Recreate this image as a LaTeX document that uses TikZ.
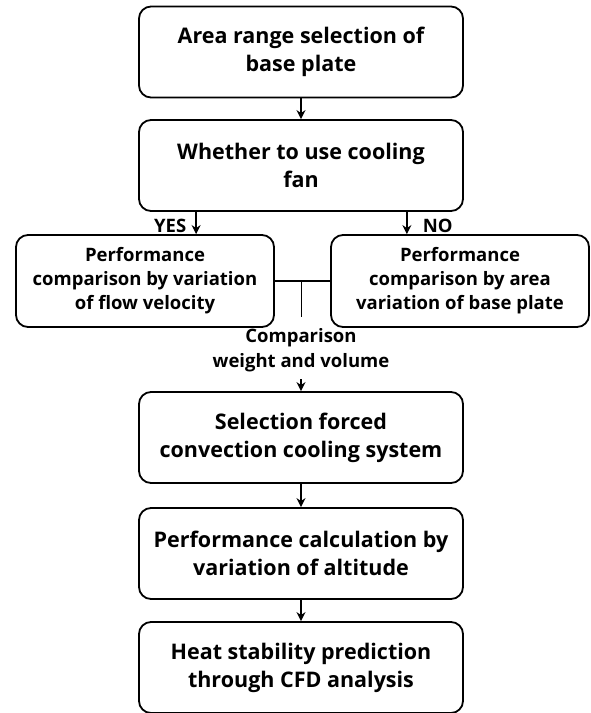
\documentclass[tikz,border=0pt]{standalone}
\usepackage{fontspec}
\setmainfont{Open Sans}
\usetikzlibrary{arrows.meta,positioning,shapes}

\begin{document}
\begin{tikzpicture}[x=1pt,y=-1pt,
  box/.style={draw,line width=1.8pt,rounded corners=12pt,align=center,
    font=\bfseries\fontsize{21.5}{28}\selectfont,minimum width=324pt,minimum height=91pt,inner sep=2pt},
  sidebox/.style={box,font=\bfseries\fontsize{18.5}{24}\selectfont,minimum width=258pt,minimum height=92pt},
  arr/.style={-{Stealth[length=9pt,width=9pt]},line width=1.8pt},
  lbl/.style={font=\bfseries\fontsize{18.5}{25}\selectfont,inner sep=1pt}]
\useasboundingbox (0,0) rectangle (591,713);
\node[box] (b1) at (301,52) {Area range selection of\\base plate};
\node[box] (b2) at (301,165.5) {Whether to use cooling\\fan};
\node[sidebox] (yes) at (145,281) {Performance\\comparison by variation\\of flow velocity};
\node[sidebox] (no) at (460,281) {Performance\\comparison by area\\variation of base plate};
\node[lbl,align=center] (cmp) at (301,350) {Comparison\\weight and volume};
\node[box] (b3) at (301,437.5) {Selection forced\\convection cooling system};
\node[box] (b4) at (301,553.5) {Performance calculation by\\variation of altitude};
\node[box] (b5) at (301,667.5) {Heat stability prediction\\through CFD analysis};
\coordinate (j) at (301,281);
\coordinate (jend) at (301,317);
\coordinate (cmpout) at (301,379);
\draw[arr] (b1) -- (b2);
\draw[arr] ([xshift=58pt]b2.south west) -- ([xshift=58pt]b2.south west |- yes.north)
  node[lbl,pos=.65,left=8pt] {YES};
\draw[arr] ([xshift=-57pt]b2.south east) -- ([xshift=-57pt]b2.south east |- no.north)
  node[lbl,pos=.65,right=14pt] {NO};
\draw[line width=1.8pt] (yes) -- (no);
\draw[line width=0.9pt] (j) -- (jend);
\draw[arr] (cmpout) -- (b3.north);
\draw[arr] (b3) -- (b4);
\draw[arr] (b4) -- (b5);
\end{tikzpicture}
\end{document}
